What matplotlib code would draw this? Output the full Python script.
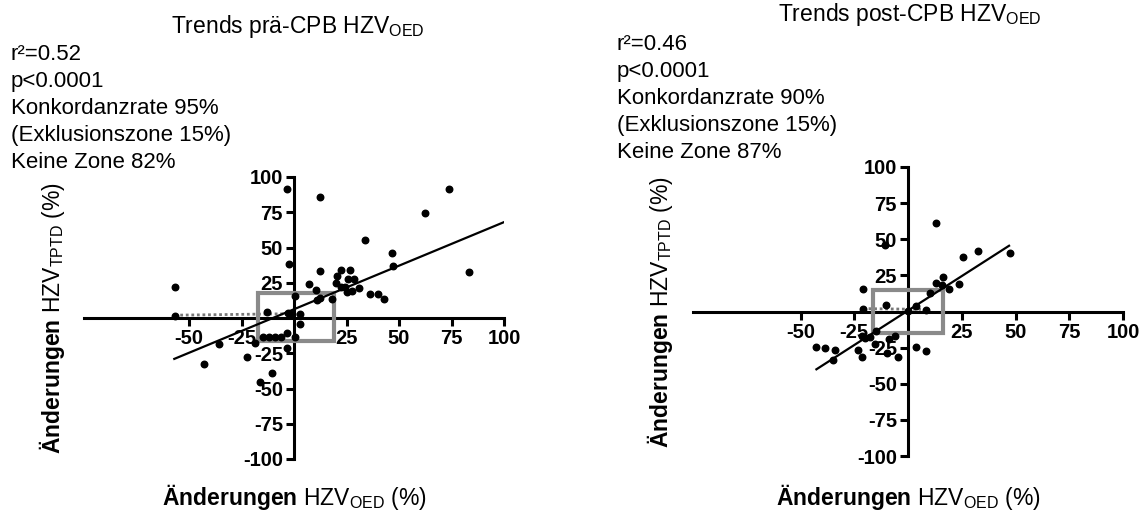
import numpy as np
import matplotlib.pyplot as plt
from matplotlib.patches import Rectangle

plt.rcParams['font.family'] = ['Liberation Sans', 'DejaVu Sans']
plt.rcParams['mathtext.fontset'] = 'custom'
plt.rcParams['mathtext.rm'] = 'Liberation Sans'
plt.rcParams['mathtext.bf'] = 'Liberation Sans:bold'
plt.rcParams['mathtext.it'] = 'Liberation Sans:italic'
plt.rcParams['axes.unicode_minus'] = False

# pre-CPB trends (% change OED vs TPTD)
pre_x = [-56.8, -56.8, -42.7, -35.6, -22.3, -18.5, -12.8, -14.6, -11.7, -9.0,
         -6.3, -3.2, -3.2, -16.2, -10.5, -3.2, -2.6, -2.7, -1.0, 2.8,
         2.8, 0.5, 0.5, 7.2, 10.5, 12.2, 12.2, 11.0, 12.3, 18.2,
         20.6, 22.3, 20.0, 22.3, 24.2, 25.5, 26.9, 25.0, 27.4, 28.6,
         30.8, 34.0, 36.4, 40.2, 42.7, 46.6, 47.1, 62.3, 73.7, 83.5]
pre_y = [22.2, 1.6, -32.6, -18.2, -27.9, -18.0, 4.5, -13.3, -13.3, -13.3,
         -13.3, -10.6, -21.5, -45.2, -38.8, 91.5, 38.2, 3.3, 3.0, 3.0,
         -4.2, 15.5, -13.3, 24.0, 20.2, 85.6, 33.3, 12.8, 14.4, 13.2,
         29.8, 34.0, 24.6, 22.2, 22.2, 27.7, 34.0, 18.7, 19.4, 27.4,
         21.5, 55.3, 17.0, 17.0, 13.2, 46.1, 37.1, 74.2, 91.3, 32.4]
pre_fit_x = [-57, 100]
pre_fit_y = [-29, 68]
pre_dot_x = [-56.8, -2.7]
pre_dot_y = [2.0, 3.0]
pre_zone_x = [-17, 19]
pre_zone_y = [-16, 18]
pre_stats = ['r²=0.52', 'p<0.0001', 'Konkordanzrate 95%', '(Exklusionszone 15%)', 'Keine Zone 82%']

# post-CPB trends
post_x = [13.2, -10.8, -20.9, -20.9, -10.4, 3.9, 8.6, 13.2, 16.3, 15.8,
          19.1, 23.6, 25.6, 32.7, 47.3, 10.0, -42.6, -38.4, -33.8, -34.9,
          -23.3, -21.4, -21.4, -20.1, -17.8, -15.5, -14.7, -10.0, -8.8, -6.2,
          -4.7, 3.9, 8.6, 0.0]
post_y = [61.2, 46.2, 15.5, 1.9, 4.2, 3.5, 0.7, 19.7, 24.2, 18.5,
          15.5, 19.2, 37.4, 42.0, 40.4, 12.7, -24.9, -25.4, -26.5, -33.4,
          -26.5, -31.8, -17.3, -18.4, -17.7, -22.6, -13.8, -28.8, -18.9, -17.3,
          -31.8, -24.9, -27.2, 0.5]
post_fit_x = [-42.6, 47]
post_fit_y = [-40, 45.5]
post_dot_x = [-20.9, 6.0]
post_dot_y = [2.0, 1.5]
post_zone_x = [-16.5, 16.5]
post_zone_y = [-15, 15]
post_stats = ['r²=0.46', 'p<0.0001', 'Konkordanzrate 90%', '(Exklusionszone 15%)', 'Keine Zone 87%']

xticks = [-50, -25, 25, 50, 75, 100]
yticks = [-100, -75, -50, -25, 25, 50, 75, 100]

W, H = 1145, 512
fig = plt.figure(figsize=(W / 100, H / 100), dpi=100)


def panel(rect, x, y, fx, fy, dx, dy, zx, zy):
    ax = fig.add_axes(rect)
    ax.set_xlim(-100, 100)
    ax.set_ylim(-100, 100)
    for s in ['top', 'right']:
        ax.spines[s].set_visible(False)
    for s in ['left', 'bottom']:
        ax.spines[s].set_position('zero')
        ax.spines[s].set_linewidth(2.2)
    ax.set_xticks(xticks)
    ax.set_yticks(yticks)
    ax.tick_params(direction='out', length=6, width=2.2, labelsize=14.5, pad=2)
    for lab in ax.get_xticklabels() + ax.get_yticklabels():
        lab.set_fontweight('bold')
    ax.add_patch(Rectangle((zx[0], zy[0]), zx[1] - zx[0], zy[1] - zy[0],
                           fill=False, edgecolor='#8a8a8a', lw=3, zorder=3))
    ax.plot(dx, dy, ls=(0, (1, 1)), color='#777777', lw=2, zorder=2)
    ax.plot(fx, fy, color='black', lw=1.6, zorder=4)
    ax.scatter(x, y, s=22, color='black', zorder=5, clip_on=False)
    return ax


ax1 = panel([84 / W, 1 - 459 / H, 420 / W, 282 / H],
            pre_x, pre_y, pre_fit_x, pre_fit_y, pre_dot_x, pre_dot_y, pre_zone_x, pre_zone_y)
ax2 = panel([693 / W, 1 - 456 / H, 430 / W, 289 / H],
            post_x, post_y, post_fit_x, post_fit_y, post_dot_x, post_dot_y, post_zone_x, post_zone_y)

# titles
fig.text(298 / W, 1 - 27 / H, r'Trends prä-CPB HZV$_\mathregular{OED}$', ha='center', va='center', fontsize=16.5)
fig.text(910 / W, 1 - 14 / H, r'Trends post-CPB HZV$_\mathregular{OED}$', ha='center', va='center', fontsize=16.5)

# stats text
for i, t in enumerate(pre_stats):
    fig.text(11 / W, 1 - (54 + 27 * i) / H, t, ha='left', va='center', fontsize=16)
for i, t in enumerate(post_stats):
    fig.text(617 / W, 1 - (45 + 27 * i) / H, t, ha='left', va='center', fontsize=16)

# axis labels
xl = r'$\mathbf{Änderungen}$ HZV$_\mathregular{OED}$ (%)'
yl = r'$\mathbf{Änderungen}$ HZV$_\mathregular{TPTD}$ (%)'
fig.text(294 / W, 1 - 497 / H, xl, ha='center', va='center', fontsize=16.5)
fig.text(908 / W, 1 - 497 / H, xl, ha='center', va='center', fontsize=16.5)
fig.text(52 / W, 1 - 318 / H, yl, ha='center', va='center', fontsize=16.5, rotation=90)
fig.text(660 / W, 1 - 312 / H, yl, ha='center', va='center', fontsize=16.5, rotation=90)

fig.savefig('out.png', dpi=100)
